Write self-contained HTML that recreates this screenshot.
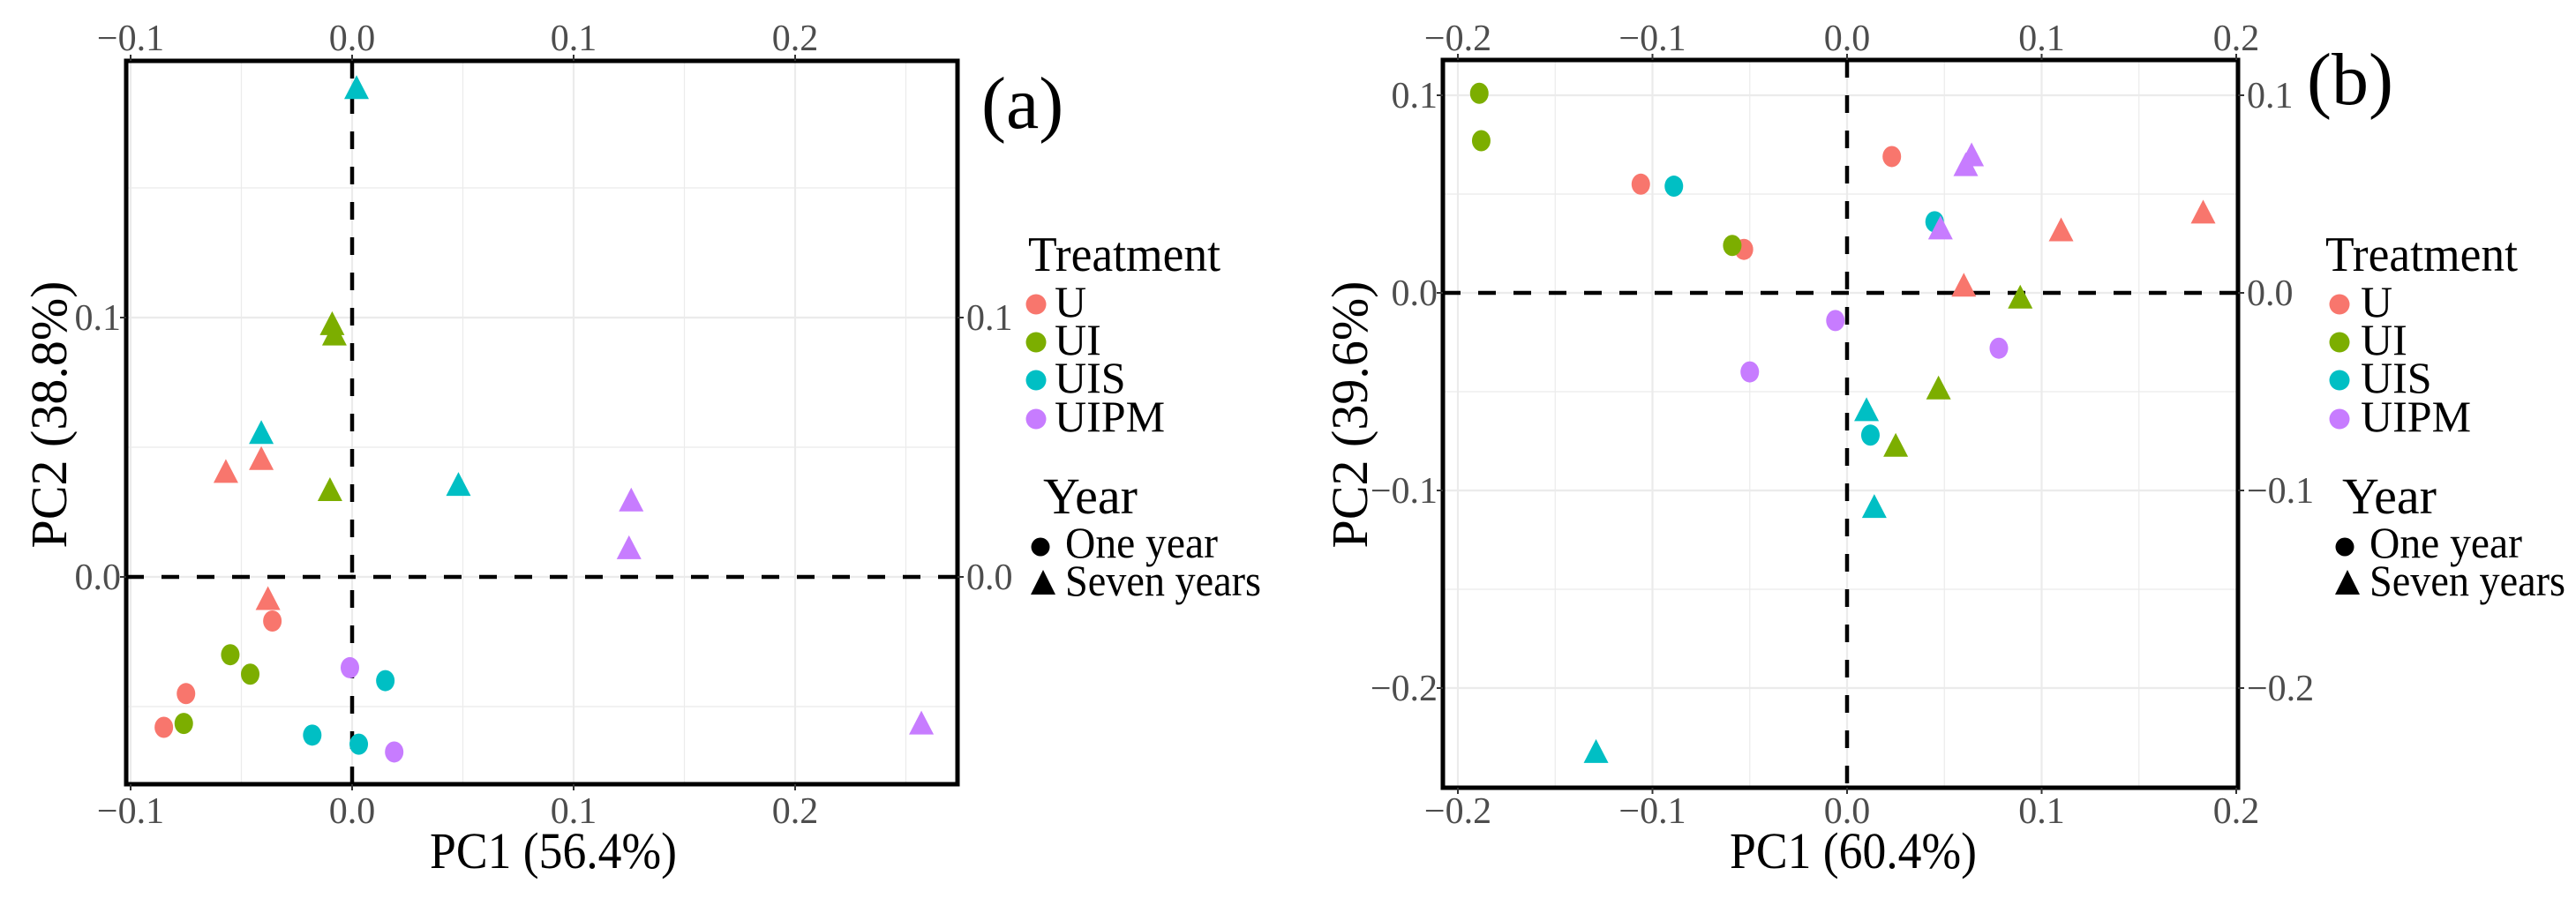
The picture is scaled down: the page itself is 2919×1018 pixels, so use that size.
<!DOCTYPE html>
<html><head><meta charset="utf-8"><style>
html,body{margin:0;padding:0;background:#fff;}
svg{display:block;}
text{font-family:"Liberation Serif",serif;}
</style></head><body>
<svg id="fig" width="2919" height="1018" viewBox="0 0 2919 1018"></svg>
<script>
// ---- Panel (a) data ----
const aPC1 = [-0.085,-0.075,-0.036, -0.057,-0.041,-0.038, -0.076,-0.055,-0.046, -0.009,-0.008,-0.010, -0.018,0.003,0.015, 0.002,-0.041,0.048, -0.001,0.019, 0.126,0.125,0.257];
const aPC2 = [-0.058,-0.045,-0.017, 0.040,0.045,-0.009, -0.0565,-0.030,-0.0375, 0.097,0.093,0.033, -0.061,-0.0645,-0.040, 0.188,0.055,0.035, -0.035,-0.0675, 0.029,0.0106,-0.057];
const aTreat = ["U","U","U","U","U","U","UI","UI","UI","UI","UI","UI","UIS","UIS","UIS","UIS","UIS","UIS","UIPM","UIPM","UIPM","UIPM","UIPM"];
const aYear = ["One","One","One","Seven","Seven","Seven","One","One","One","Seven","Seven","Seven","One","One","One","Seven","Seven","Seven","One","One","Seven","Seven","Seven"];
const aXTicks = [-0.1,0.0,0.1,0.2];
const aXTickLabels = ["\u22120.1","0.0","0.1","0.2"];
const aYTicks = [0.0,0.1];
const aYTickLabels = ["0.0","0.1"];
// ---- Panel (b) data ----
const bPC1 = [-0.106,0.023,-0.053, 0.183,0.110,0.060, -0.189,-0.188,-0.059, 0.089,0.047,0.025, -0.089,0.045,0.012, 0.010,0.014,-0.129, -0.006,-0.050,0.078, 0.064,0.061,0.048];
const bPC2 = [0.055,0.069,0.022, 0.040,0.031,0.003, 0.101,0.077,0.024, -0.003,-0.049,-0.078, 0.054,0.036,-0.072, -0.060,-0.109,-0.233, -0.014,-0.040,-0.028, 0.069,0.064,0.032];
const bTreat = ["U","U","U","U","U","U","UI","UI","UI","UI","UI","UI","UIS","UIS","UIS","UIS","UIS","UIS","UIPM","UIPM","UIPM","UIPM","UIPM","UIPM"];
const bYear = ["One","One","One","Seven","Seven","Seven","One","One","One","Seven","Seven","Seven","One","One","One","Seven","Seven","Seven","One","One","One","Seven","Seven","Seven"];
const bXTicks = [-0.2,-0.1,0.0,0.1,0.2];
const bXTickLabels = ["\u22120.2","\u22120.1","0.0","0.1","0.2"];
const bYTicks = [-0.2,-0.1,0.0,0.1];
const bYTickLabels = ["\u22120.2","\u22120.1","0.0","0.1"];
const treatNames = ["U","UI","UIS","UIPM"];
const treatColors = {"U":"#F8766D","UI":"#7CAE00","UIS":"#00BFC4","UIPM":"#C77CFF"};

const NS="http://www.w3.org/2000/svg";
const svg=document.getElementById('fig');
function mk(tag,attrs,parent,txt){const e=document.createElementNS(NS,tag);for(const k in attrs)e.setAttribute(k,attrs[k]);if(txt!==undefined)e.textContent=txt;(parent||svg).appendChild(e);return e;}

function panel(cfg){
  const g=mk('g',{});
  
  
  const X=v=>cfg.x0+v*cfg.xs, Y=v=>cfg.y0-v*cfg.ys;
  const L=cfg.box[0],T=cfg.box[1],R=cfg.box[2],B=cfg.box[3];
  mk('rect',{x:L,y:T,width:R-L,height:B-T,fill:'#fff'},g);
  // grid minor + major
  const step=0.1;
  for(let v=-0.3;v<=0.3001;v+=0.05){
    const major=Math.abs(Math.round(v/step)*step-v)<1e-6;
    const px=X(v); if(px>L+2&&px<R-2){const l=mk('line',{x1:px,x2:px,y1:T,y2:B,stroke:'#ebebeb','stroke-width':major?2.2:1.2},g);}
    const py=Y(v); if(py>T+2&&py<B-2){const l=mk('line',{x1:L,x2:R,y1:py,y2:py,stroke:'#ebebeb','stroke-width':major?2.2:1.2},g);}
  }
  // zero lines
  const zv=mk('line',{x1:X(0),x2:X(0),y1:T,y2:B,stroke:'#000','stroke-width':4.5,'stroke-dasharray':'20 20'},g);
  
  const zh=mk('line',{x1:L,x2:R,y1:Y(0),y2:Y(0),stroke:'#000','stroke-width':4.5,'stroke-dasharray':'20 20'},g);
  
  // points
  for(let i=0;i<cfg.pc1.length;i++){
    const cx=X(cfg.pc1[i]),cy=Y(cfg.pc2[i]),col=treatColors[cfg.treat[i]];
    let m;
    if(cfg.year[i]==="One"){m=mk('ellipse',{cx:cx,cy:cy,rx:10.5,ry:12,fill:col},g);}
    else{m=mk('polygon',{points:`${cx},${cy-16} ${cx+14},${cy+11} ${cx-14},${cy+11}`,fill:col},g);}
    
    
  }
  // border
  const bd=mk('rect',{x:L,y:T,width:R-L,height:B-T,fill:'none',stroke:'#000','stroke-width':5},g);
  
  // x ticks top+bottom
  cfg.xt.forEach((v,i)=>{
    const px=X(v);
    mk('line',{x1:px,x2:px,y1:T-7,y2:T,stroke:'#333','stroke-width':2},g);
    mk('line',{x1:px,x2:px,y1:B,y2:B+7,stroke:'#333','stroke-width':2},g);
    const t1=mk('text',{x:px,y:57,'font-size':42,fill:'#4d4d4d','text-anchor':'middle'},g,cfg.xtl[i]);
    
    const t2=mk('text',{x:px,y:933,'font-size':42,fill:'#4d4d4d','text-anchor':'middle'},g,cfg.xtl[i]);
    
  });
  cfg.yt.forEach((v,i)=>{
    const py=Y(v);
    mk('line',{x1:L-7,x2:L,y1:py,y2:py,stroke:'#333','stroke-width':2},g);
    mk('line',{x1:R,x2:R+7,y1:py,y2:py,stroke:'#333','stroke-width':2},g);
    const t1=mk('text',{x:L-6,y:py+14,'font-size':42,fill:'#4d4d4d','text-anchor':'end'},g,cfg.ytl[i]);
    
    const t2=mk('text',{x:R+10,y:py+14,'font-size':42,fill:'#4d4d4d'},g,cfg.ytl[i]);
    
  });
  // axis titles
  const xt=mk('text',{x:cfg.xtitleX,y:984,'font-size':58,'text-anchor':'middle',textLength:280,lengthAdjust:'spacingAndGlyphs'},g,cfg.xtitle);
  
  const yt=mk('text',{transform:`translate(${cfg.ytitleX},470) rotate(-90)`,'font-size':58,'text-anchor':'middle'},g,cfg.ytitle);
  
  // panel label
  const pl=mk('text',{x:cfg.lab[0],y:cfg.lab[1],'font-size':84},g,cfg.labText);
  
  // legend
  const lg=cfg.leg;
  const tt=mk('text',{x:lg.tx,y:307,'font-size':56,textLength:218,lengthAdjust:'spacingAndGlyphs'},g,'Treatment');
  
  const rows=[345,388,431,475];
  treatNames.forEach((n,i)=>{
    const c=mk('circle',{cx:lg.cx,cy:rows[i],r:11.5,fill:treatColors[n]},g);
    
    const t=mk('text',{x:lg.lx,y:rows[i]+14,'font-size':50},g,n);
    
  });
  const yr=mk('text',{x:lg.yx,y:582,'font-size':58},g,'Year');
  
  const d=mk('circle',{cx:lg.dx,cy:620,r:10.5,fill:'#000'},g);
  
  const t1=mk('text',{x:lg.dx+28,y:632,'font-size':50,textLength:173,lengthAdjust:'spacingAndGlyphs'},g,'One year');
  
  const tri=mk('polygon',{points:`${lg.dx+3},${646} ${lg.dx+17},${674} ${lg.dx-11},${674}`,fill:'#000'},g);
  
  const t2=mk('text',{x:lg.dx+28,y:675,'font-size':50,textLength:222,lengthAdjust:'spacingAndGlyphs'},g,'Seven years');
  
}

panel({name:'panel-a',box:[143,69,1085,889],x0:399,xs:2510,y0:654,ys:2940,
  pc1:aPC1,pc2:aPC2,treat:aTreat,year:aYear,xt:aXTicks,xtl:aXTickLabels,yt:aYTicks,ytl:aYTickLabels,
  xtitle:'PC1 (56.4%)',xtitleX:627,ytitle:'PC2 (38.8%)',ytitleX:75,lab:[1112,145],labText:'(a)',
  leg:{tx:1165,cx:1174,lx:1195,yx:1182,dx:1179}});
panel({name:'panel-b',box:[1635,68,2536,893],x0:2093,xs:2205,y0:332,ys:2240,
  pc1:bPC1,pc2:bPC2,treat:bTreat,year:bYear,xt:bXTicks,xtl:bXTickLabels,yt:bYTicks,ytl:bYTickLabels,
  xtitle:'PC1 (60.4%)',xtitleX:2100,ytitle:'PC2 (39.6%)',ytitleX:1549,lab:[2614,118],labText:'(b)',
  leg:{tx:2635,cx:2651,lx:2675,yx:2654,dx:2657}});
</script>
</body></html>
